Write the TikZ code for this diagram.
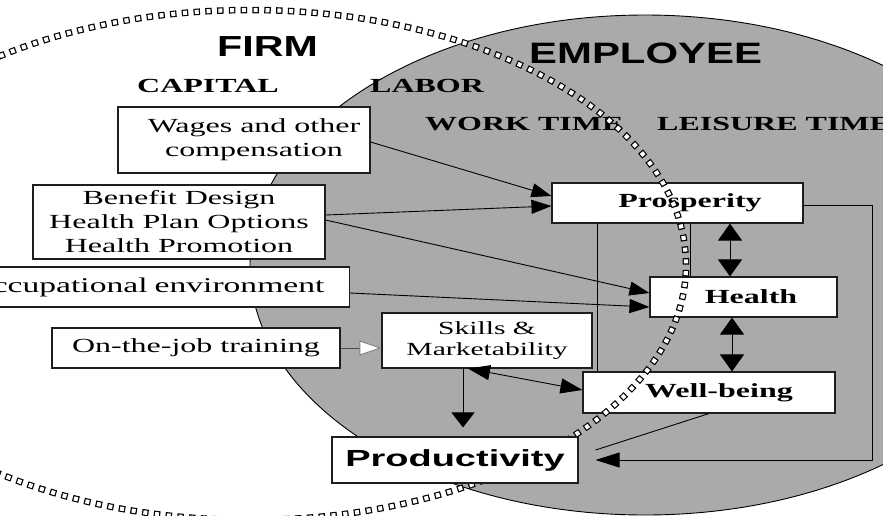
\documentclass[tikz,border=0pt]{standalone}
\usepackage{fontspec}
\setmainfont{Liberation Serif}[FakeStretch=1.6]
\newfontfamily\headsans{Liberation Sans Bold}[FakeStretch=1.42]
\newfontfamily\prodsans{Liberation Sans Bold}[FakeStretch=1.63]
\usetikzlibrary{arrows.meta,calc}
\definecolor{empgray}{RGB}{170,170,170}
\definecolor{boxline}{RGB}{30,30,30}

\begin{document}
\begin{tikzpicture}[x=1pt,y=-1pt,
  box/.style={draw=boxline,line width=1.1pt,fill=white,inner sep=0pt,align=center},
  boxtext/.style={font=\fontsize{20}{24}\selectfont},
  boldtext/.style={font=\fontsize{20}{24}\selectfont\bfseries},
  heading/.style={inner sep=0pt,anchor=base west,font=\fontsize{20}{24}\selectfont\bfseries},
  link/.style={draw=black,line width=0.9pt},
  flowhead/.style={-{Triangle[length=20pt,width=14pt]}},
  vboth/.style={{Triangle[length=17pt,width=24pt]}-{Triangle[length=17pt,width=24pt]}},
  sboth/.style={{Triangle[length=22pt,width=15pt]}-{Triangle[length=22pt,width=15pt]}},
  hollowhead/.style={-{Triangle[length=22pt,width=15pt,color=gray,fill=white]}},
  chainblack/.style={line width=6.5pt,dash pattern=on 6.5pt off 5.3pt,line cap=butt},
  chainwhite/.style={white,line width=4.2pt,dash pattern=on 4pt off 7.8pt,dash phase=10.55pt,line cap=butt},
]
\useasboundingbox (0,0) rectangle (883,515);
\clip (0,0) rectangle (883,515);
\fill[white] (0,0) rectangle (883,515);

% employee domain
\filldraw[fill=empgray,draw=black,line width=0.9pt] (645,265) ellipse [x radius=395, y radius=250];

% headings
\node[inner sep=0pt,anchor=base west,font=\fontsize{29}{32}\headsans] (firm) at (217,56) {FIRM};
\node[inner sep=0pt,anchor=base west,font=\fontsize{29.5}{32}\headsans] (employee) at (529,63) {EMPLOYEE};
\node[heading] (capital) at (137,92) {CAPITAL};
\node[heading] (labor) at (370,92) {LABOR};
\node[heading] (worktime) at (425,130) {WORK TIME};
\node[heading] (leisure) at (657,130) {LEISURE TIME};

% firm-side inputs
\node[box,boxtext,minimum width=252pt,minimum height=66pt] (wages) at (244,140)
  {\hspace*{20pt}Wages and other\\\hspace*{20pt}compensation};
\node[box,boxtext,minimum width=292pt,minimum height=74pt] (benefit) at (179,222)
  {Benefit Design\\Health Plan Options\\Health Promotion};
\node[box,font=\fontsize{21}{24}\selectfont,anchor=east,text width=425pt,align=right,inner xsep=25pt,inner ysep=0pt,minimum height=40pt] (occup) at (350,287)
  {Occupational environment};
\node[box,boxtext,minimum width=288pt,minimum height=40pt] (train) at (196,348) {On-the-job training};
\node[box,font=\fontsize{18.5}{21}\selectfont,minimum width=210pt,minimum height=55pt] (skills) at (487,340.5)
  {Skills \&\\Marketability};

% employee outcomes
\node[box,boldtext,minimum width=251pt,minimum height=40pt] (prosp) at (677.5,203) {\hspace*{25pt}Prosperity};
\node[box,boldtext,minimum width=187pt,minimum height=40pt] (health) at (743.5,297) {\hspace*{15pt}Health};
\node[box,boldtext,minimum width=252pt,minimum height=41pt] (well) at (709,392.5) {\hspace*{20pt}Well-being};

% influences
\draw[link,flowhead] ([yshift=-2pt]wages.east) -- ([yshift=7pt]prosp.west);
\draw[link,flowhead] ([yshift=7pt]benefit.east) -- ([yshift=-3pt]prosp.west);
\draw[link,flowhead] ([yshift=2pt]benefit.east) -- ([yshift=4pt]health.west);
\draw[link,flowhead] ([yshift=-6pt]occup.east) -- ([yshift=-10pt]health.west);
\draw[link,draw=gray!60!black,hollowhead] (train.east) -- (train.east -| skills.west);
\draw[link,sboth] ([xshift=-19pt]skills.south) -- ([yshift=2.5pt]well.west);
\draw[link] ([xshift=-80.5pt]prosp.south) -- ([xshift=-80.5pt]prosp.south |- well.north);
\draw[link] ([xshift=12.5pt]prosp.south) -- ([xshift=12.5pt]prosp.south |- health.north);
\draw[link,vboth] ([xshift=52.5pt]prosp.south) -- ([xshift=52.5pt]prosp.south |- health.north);
\draw[link,vboth] ([xshift=-11.5pt]health.south) -- ([xshift=-11.5pt]health.south |- well.north);

% firm boundary: a chain of small hollow squares
\draw[chainblack] (-186,265) arc[start angle=180,end angle=540,x radius=436,y radius=255];
\draw[chainwhite] (-186,265) arc[start angle=180,end angle=540,x radius=436,y radius=255];

% output
\node[box,font=\fontsize{23.3}{28}\prodsans,minimum width=246pt,minimum height=46pt] (prod) at (455,460) {Productivity};
\coordinate (bend) at (872,460);
\draw[link,-{Triangle[length=15pt,width=23pt]}] ([xshift=-24pt]skills.south) -- ([xshift=-24pt,yshift=9pt]skills.south |- prod.north);
\draw[link] (well.south) -- ([xshift=17pt,yshift=10pt]prod.east);
\draw[link,-{Triangle[length=24pt,width=15pt]}] ([yshift=-2pt]prosp.east) -| (bend) -- ([xshift=17pt]prod.east);
\end{tikzpicture}
\end{document}
